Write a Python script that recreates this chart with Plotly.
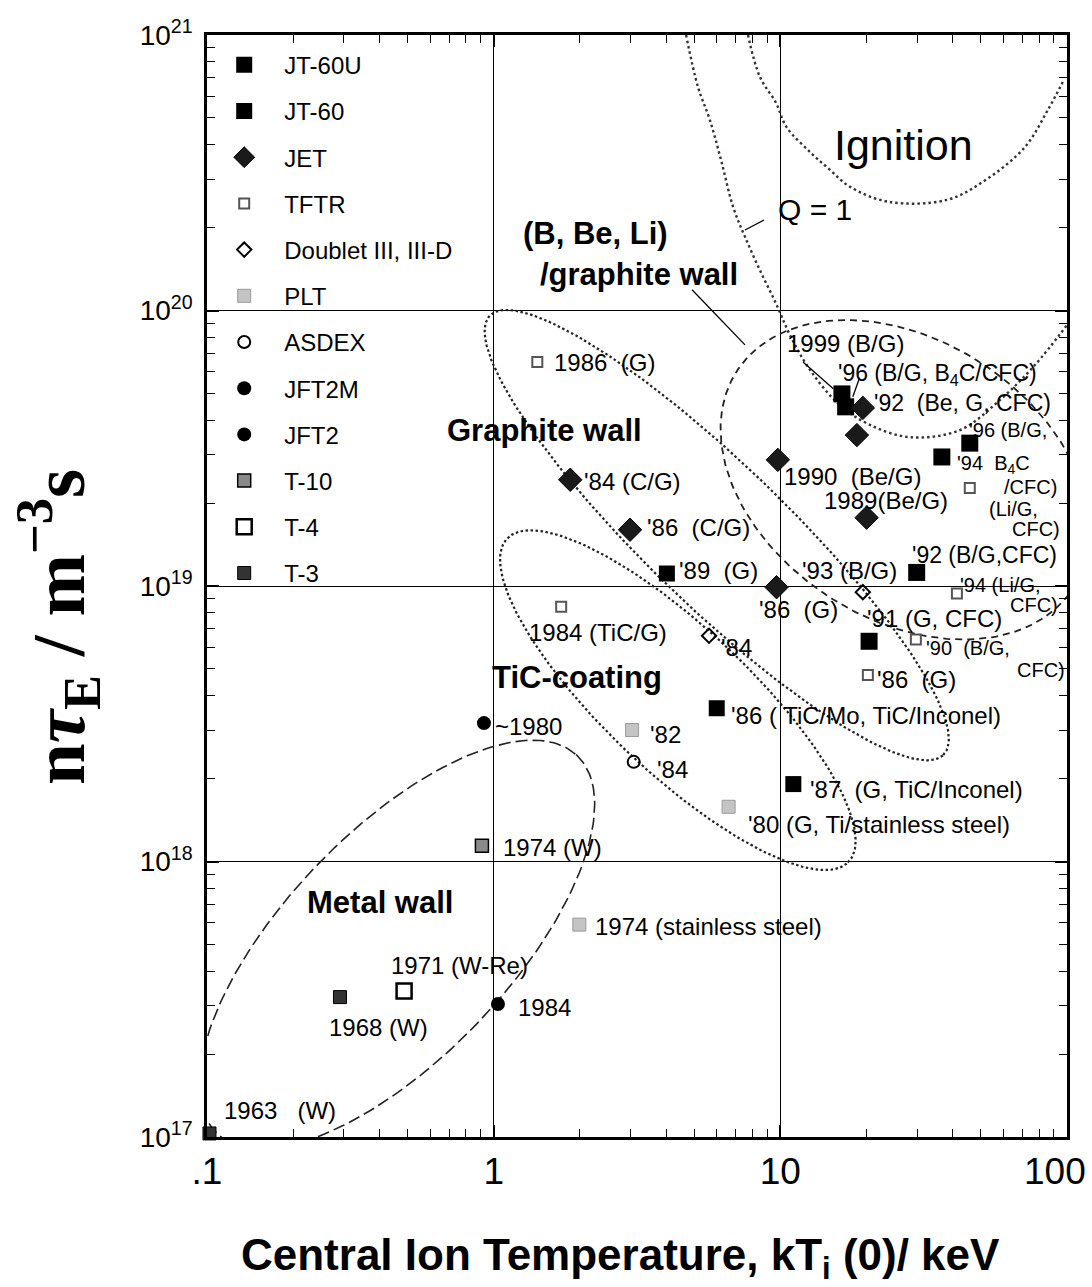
import numpy as np
import plotly.graph_objects as go

# ---------------- data: central ion temperature (keV) and n*tau_E (m^-3 s) ----------------
jt60u_T = [16.4, 16.9, 45.8, 36.6, 29.9, 20.4]
jt60u_N = [4.98e19, 4.47e19, 3.30e19, 2.94e19, 1.12e19, 6.3e18]
jt60_T = [4.02, 6.0, 11.1]
jt60_N = [1.11e19, 3.6e18, 1.91e18]
jet_T = [1.85, 2.99, 9.7, 9.8, 20.0, 19.4, 18.5]
jet_N = [2.43e19, 1.60e19, 9.9e18, 2.87e19, 1.77e19, 4.43e19, 3.53e19]
tftr_T = [1.42, 1.72, 20.2, 29.7, 41.3, 45.8]
tftr_N = [6.5e19, 8.4e18, 4.75e18, 6.4e18, 9.4e18, 2.27e19]
doublet_T = [5.64, 19.4]
doublet_N = [6.6e18, 9.5e18]
plt_T = [3.04, 6.6, 1.99]
plt_N = [3.0e18, 1.58e18, 5.9e17]
asdex_T = [3.08]
asdex_N = [2.30e18]
jft2m_T = [0.925]
jft2m_N = [3.18e18]
jft2_T = [1.035]
jft2_N = [3.04e17]
t10_T = [0.91]
t10_N = [1.14e18]
t4_T = [0.487]
t4_N = [3.39e17]
t3_T = [0.291, 0.102]
t3_N = [3.22e17, 1.03e17]

# theoretical curves
q1_T = [4.69, 5.16, 5.68, 6.21, 6.84, 7.53, 8.49, 9.66, 10.8, 12.7, 16.1, 20.6, 28.3, 42.3, 58.3, 77.3, 100]
q1_N = [1e21, 6.48e20, 4.91e20, 3.52e20, 2.38e20, 1.85e20, 1.40e20, 1.06e20, 8.15e19, 6.08e19,
        4.54e19, 3.84e19, 3.47e19, 3.68e19, 4.73e19, 6.34e19, 8.86e19]
ign_T = [7.71, 8.49, 9.66, 10.5, 12.8, 14.9, 17.5, 23.9, 38.1, 52.1, 71.3, 85.7, 97.5]
ign_N = [1e21, 7.04e20, 5.67e20, 4.64e20, 3.73e20, 3.24e20, 2.81e20, 2.48e20, 2.52e20, 2.98e20,
         3.92e20, 5.34e20, 6.87e20]

# region outlines: centre (T, n tau), semi-axes (decades), tilt (deg, in log-log space)
metal_center = (0.46, 5.0e17); metal_axes = (0.93, 0.40); metal_tilt = 48.0
tic_center = (4.39, 3.85e18); tic_axes = (0.836, 0.257); tic_tilt = -44.8
graphite_center = (6.0, 1.53e19); graphite_axes = (1.123, 0.25); graphite_tilt = -45.3
bbeli_center = (27.2, 2.43e19); bbeli_axes = (0.707, 0.50); bbeli_tilt = -36.0

# leader lines (from, to) in (T, n tau)
leader_T = [(4.92, 7.53), (7.53, 8.77), (12.0, 15.3), (18.9, 17.9)]
leader_N = [(1.19e20, 7.5e19), (1.96e20, 2.13e20), (6.5e19, 5.2e19), (5.7e19, 4.86e19)]

# axis tick labels
x_tickvals = [0.1, 1, 10]
x_ticktext = [".1", "1", "10"]
x_last_tick = (100, "100")
y_tickvals = [1e17, 1e18, 1e19, 1e20, 1e21]
y_ticktext = ["10<sup>17</sup>", "10<sup>18</sup>", "10<sup>19</sup>", "10<sup>20</sup>", "10<sup>21</sup>"]

# point labels (text, T, n tau)
label_text = ["1999 (B/G)", "'96 (B/G, B<sub>4</sub>C/CFC)", "'92  (Be, G, CFC)", "'96 (B/G,",
              "1990  (Be/G)", "1989(Be/G)", "'94  B<sub>4</sub>C", "/CFC)", "(Li/G,", "CFC)",
              "'92 (B/G,CFC)", "'93 (B/G)", "'94 (Li/G,", "CFC)", "'86  (G)", "'91 (G, CFC)",
              "'89  (G)", "1984 (TiC/G)", "'84", "'90  (B/G,", "CFC)", "'86  (G)",
              "'86 ( TiC/Mo, TiC/Inconel)", "~1980", "'82", "'84", "'87  (G, TiC/Inconel)",
              "'80 (G, Ti/stainless steel)", "1974 (W)", "1974 (stainless steel)", "1971 (W-Re)",
              "1968 (W)", "1984", "1963   (W)", "1986  (G)", "'84 (C/G)", "'86  (C/G)"]
label_T = [10.4, 15.7, 20.9, 44.8, 10.1, 14.0, 40.6, 59.3, 52.6, 63.2,
           28.3, 11.7, 41.6, 62.2, 8.28, 19.7, 4.36, 1.31, 6.11, 31.7, 65.8, 21.4,
           6.62, 0.994, 3.45, 3.65, 12.5, 7.59, 1.06, 2.22, 0.431, 0.262, 1.196, 0.113,
           1.60, 2.03, 3.37]
label_N = [7.6e19, 5.85e19, 4.62e19, 3.68e19, 2.49e19, 2.05e19, 2.76e19, 2.28e19, 1.90e19, 1.61e19,
           1.30e19, 1.14e19, 1.01e19, 8.5e18, 8.2e18, 7.65e18, 1.14e19, 6.8e18, 6.0e18, 5.96e18,
           4.96e18, 4.56e18, 3.40e18, 3.08e18, 2.88e18, 2.15e18, 1.82e18, 1.36e18, 1.12e18,
           5.8e17, 4.2e17, 2.5e17, 2.94e17, 1.25e17, 6.45e19, 2.39e19, 1.63e19]
small_labels = {"/CFC)", "(Li/G,", "CFC)", "'94  B<sub>4</sub>C", "'94 (Li/G,", "'96 (B/G,", "'90  (B/G,"}
medium_labels = {"'96 (B/G, B<sub>4</sub>C/CFC)", "'92  (Be, G, CFC)", "'92 (B/G,CFC)"}

# region titles (text, T, n tau)
region_text = ["Graphite wall", "TiC-coating", "Metal wall", "(B, Be, Li)", "/graphite wall"]
region_T = [0.676, 0.97, 0.22, 1.245, 1.43]
region_N = [3.68e19, 4.64e18, 7.1e17, 1.91e20, 1.35e20]
curve_text = ["Ignition", "Q = 1"]
curve_T = [15.1, 9.66]
curve_N = [3.99e20, 2.32e20]

legend_names = ["JT-60U", "JT-60", "JET", "TFTR", "Doublet III, III-D", "PLT", "ASDEX", "JFT2M", "JFT2",
                "T-10", "T-4", "T-3"]

SANS = "Liberation Sans, Arial, Helvetica, sans-serif"
SERIF = "Liberation Serif, Times New Roman, serif"


def outline(center, axes, tilt, n=240):
    t = np.linspace(0, 2 * np.pi, n)
    th = np.radians(tilt)
    a, b = axes
    lx = np.log10(center[0]) + a * np.cos(t) * np.cos(th) - b * np.sin(t) * np.sin(th)
    ly = np.log10(center[1]) + a * np.cos(t) * np.sin(th) + b * np.sin(t) * np.cos(th)
    return 10 ** lx, 10 ** ly


fig = go.Figure()

# region outlines and theoretical curves (no legend)
for (c, ax_, tl, dash, w) in [
    (metal_center, metal_axes, metal_tilt, "12px,5px", 1.6),
    (tic_center, tic_axes, tic_tilt, "2.5px,2.5px", 2.2),
    (graphite_center, graphite_axes, graphite_tilt, "2.5px,2.5px", 2.2),
    (bbeli_center, bbeli_axes, bbeli_tilt, "7px,5px", 1.8),
]:
    ex, ey = outline(c, ax_, tl)
    fig.add_trace(go.Scatter(x=ex, y=ey, mode="lines", line=dict(color="#222", width=w, dash=dash),
                             showlegend=False, hoverinfo="skip"))

for cx, cy in [(q1_T, q1_N), (ign_T, ign_N)]:
    fig.add_trace(go.Scatter(x=cx, y=cy, mode="lines",
                             line=dict(color="#333", width=2.4, dash="2.5px,3px", shape="spline"),
                             showlegend=False, hoverinfo="skip"))

for lt, ln in zip(leader_T, leader_N):
    fig.add_trace(go.Scatter(x=list(lt), y=list(ln), mode="lines", line=dict(color="black", width=1.3),
                             showlegend=False, hoverinfo="skip"))

# machines
styles = [
    dict(symbol="square", size=17, color="black"),
    dict(symbol="square", size=16, color="black"),
    dict(symbol="diamond", size=18, color="#1a1a1a", line=dict(color="black", width=1)),
    dict(symbol="square-open", size=10, color="#555", line=dict(width=2)),
    dict(symbol="diamond-open", size=11, color="black", line=dict(width=2)),
    dict(symbol="square", size=13, color="#c4c4c4", line=dict(color="#9a9a9a", width=1)),
    dict(symbol="circle-open", size=12, color="black", line=dict(width=2)),
    dict(symbol="circle", size=14, color="black"),
    dict(symbol="circle", size=14, color="black"),
    dict(symbol="square", size=13, color="#8a8a8a", line=dict(color="black", width=1.5)),
    dict(symbol="square-open", size=15, color="black", line=dict(width=2.5)),
    dict(symbol="square", size=13, color="#333", line=dict(color="black", width=1)),
]
xs_all = [jt60u_T, jt60_T, jet_T, tftr_T, doublet_T, plt_T, asdex_T, jft2m_T, jft2_T, t10_T, t4_T, t3_T]
ys_all = [jt60u_N, jt60_N, jet_N, tftr_N, doublet_N, plt_N, asdex_N, jft2m_N, jft2_N, t10_N, t4_N, t3_N]
for i, (name, xs, ys, mk) in enumerate(zip(legend_names, xs_all, ys_all, styles)):
    fig.add_trace(go.Scatter(x=xs, y=ys, mode="markers", name="\u00a0\u00a0\u00a0" + name, marker=mk,
                             legendgroup=f"g{i}", cliponaxis=False))

annotations = []
for txt, tx, ny in zip(label_text, label_T, label_N):
    size = 20 if txt in small_labels else (23 if txt in medium_labels else 24)
    annotations.append(dict(x=np.log10(tx), y=np.log10(ny), xref="x", yref="y", text=txt, showarrow=False,
                            xanchor="left", yanchor="middle", font=dict(family=SANS, size=size, color="black")))
for txt, tx, ny in zip(region_text, region_T, region_N):
    annotations.append(dict(x=np.log10(tx), y=np.log10(ny), xref="x", yref="y", text="<b>" + txt + "</b>",
                            showarrow=False, xanchor="left", yanchor="middle",
                            font=dict(family=SANS, size=31, color="black")))
annotations.append(dict(x=np.log10(curve_T[0]), y=np.log10(curve_N[0]), xref="x", yref="y", text=curve_text[0],
                        showarrow=False, xanchor="left", yanchor="middle",
                        font=dict(family=SANS, size=43, color="black")))
annotations.append(dict(x=np.log10(curve_T[1]), y=np.log10(curve_N[1]), xref="x", yref="y", text=curve_text[1],
                        showarrow=False, xanchor="left", yanchor="middle",
                        font=dict(family=SANS, size=30, color="black")))

# last x tick label, kept inside the page (as in the original, it sits left of the corner)
annotations.append(dict(x=np.log10(x_last_tick[0]), y=-0.0317, xref="x", yref="paper", text=x_last_tick[1],
                        showarrow=False, xanchor="center", yanchor="middle", xshift=-12,
                        font=dict(family=SANS, size=37, color="black")))

# axis titles
annotations.append(dict(x=0.481, y=-0.11, xref="paper", yref="paper", showarrow=False,
                        text="<b>Central Ion Temperature, kT<sub>i</sub> (0)/ keV</b>",
                        font=dict(family=SANS, size=44, color="black"), xanchor="center", yanchor="middle"))
annotations.append(dict(x=-0.173, y=0.463, xref="paper", yref="paper", showarrow=False, textangle=-90,
                        text="<b>n<i>τ</i><sub>E</sub> / m<sup>−3</sup>s</b>",
                        font=dict(family=SERIF, size=75, color="black"), xanchor="center", yanchor="middle"))

minor_x = [m * 10.0 ** k for k in (-1, 0, 1) for m in range(2, 10)]
minor_y = [m * 10.0 ** k for k in (17, 18, 19, 20) for m in range(2, 10)]

axis_common = dict(type="log", showgrid=True, gridcolor="black", gridwidth=1.4, showline=True,
                   linecolor="black", linewidth=2.5, mirror="allticks", ticks="inside", ticklen=12,
                   tickwidth=1.5, tickcolor="black", zeroline=False, ticklabeloverflow="allow",
                   automargin=False)

fig.update_xaxes(range=[-1, 2], tickvals=x_tickvals, ticktext=x_ticktext,
                 tickfont=dict(family=SANS, size=37, color="black"),
                 minor=dict(tickvals=minor_x, ticks="inside", ticklen=8, tickwidth=1.3, tickcolor="black",
                            showgrid=False), **axis_common)
fig.update_yaxes(range=[17, 21], tickvals=y_tickvals, ticktext=y_ticktext,
                 tickfont=dict(family=SANS, size=28, color="black"), ticklabelstandoff=6,
                 minor=dict(tickvals=minor_y, ticks="inside", ticklen=8, tickwidth=1.3, tickcolor="black",
                            showgrid=False), **axis_common)

fig.update_layout(
    width=1092, height=1287,
    margin=dict(l=207, r=25, t=35, b=150, autoexpand=False),
    paper_bgcolor="white", plot_bgcolor="white",
    legend=dict(x=0.02, y=0.993, xanchor="left", yanchor="top", bgcolor="rgba(0,0,0,0)",
                font=dict(family=SANS, size=24, color="black"), tracegroupgap=12, traceorder="grouped",
                itemsizing="trace"),
    annotations=annotations,
)

fig.write_html("out.html")
